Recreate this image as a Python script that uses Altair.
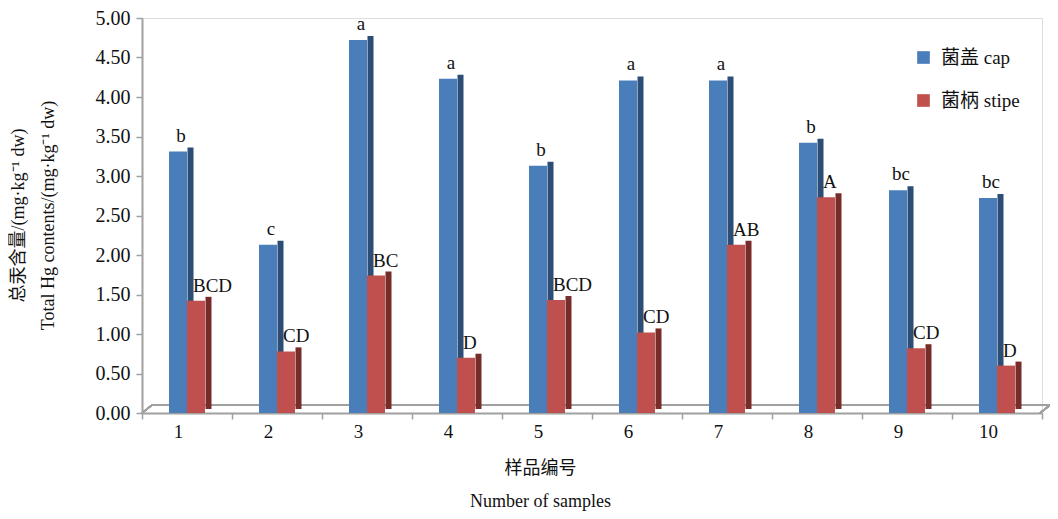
import altair as alt
import pandas as pd

samples = [str(i) for i in range(1, 11)]
series_names = ["菌盖 cap", "菌柄 stipe"]
cap_values = [3.31, 2.13, 4.72, 4.23, 3.13, 4.21, 4.21, 3.42, 2.82, 2.72]
stipe_values = [1.42, 0.78, 1.74, 0.70, 1.43, 1.02, 2.13, 2.73, 0.82, 0.60]
cap_letters = ["b", "c", "a", "a", "b", "a", "a", "b", "bc", "bc"]
stipe_letters = ["BCD", "CD", "BC", "D", "BCD", "CD", "AB", "A", "CD", "D"]
y_ticks = [0.0, 0.5, 1.0, 1.5, 2.0, 2.5, 3.0, 3.5, 4.0, 4.5, 5.0]

CAP = "#4A7EBB"
CAP_DARK = "#2C4D75"
STIPE = "#C0504D"
STIPE_DARK = "#772C2A"
FONT = "Liberation Serif, Noto Sans CJK SC"
GREY = "#A0A0A0"

rows = []
for s, cv, sv, cl, sl in zip(samples, cap_values, stipe_values, cap_letters, stipe_letters):
    rows.append({"sample": s, "series": series_names[0], "value": cv, "letter": cl})
    rows.append({"sample": s, "series": series_names[1], "value": sv, "letter": sl})
df = pd.DataFrame(rows)

x_axis = alt.Axis(
    labelAngle=0,
    tickBand="extent",
    tickOffset=-9,
    labelOffset=-9,
    tickSize=6,
    labelPadding=3,
    labelFont=FONT,
    labelFontSize=19,
    labelColor="#111",
    title=["样品编号", "Number of samples"],
    titleFont=FONT,
    titleFontSize=18,
    titleFontWeight="normal",
    titleColor="#111",
    titleX=398,
    titleY=46,
    titleAlign="center",
    titleBaseline="top",
    titleLineHeight=33,
    domainColor=GREY,
    domainWidth=2,
    tickColor=GREY,
    tickWidth=1.5,
)
y_axis = alt.Axis(
    values=y_ticks,
    format=".2f",
    grid=False,
    tickSize=6,
    labelPadding=6,
    labelFont=FONT,
    labelFontSize=20,
    labelColor="#111",
    title=["总汞含量/(mg·kg⁻¹ dw)", "Total Hg contents/(mg·kg⁻¹ dw)"],
    titleFont=FONT,
    titleFontSize=18,
    titleFontWeight="normal",
    titleColor="#111",
    titleX=-133,
    titleY=197,
    titleAlign="center",
    titleBaseline="top",
    titleLineHeight=30,
    domainColor=GREY,
    domainWidth=2,
    tickColor=GREY,
    tickWidth=1.5,
)
y_scale = alt.Scale(domain=[0, 5], nice=False)

x_enc = alt.X("sample:N", sort=samples, scale=alt.Scale(paddingInner=0, paddingOuter=0), axis=x_axis)
y_enc = alt.Y("value:Q", scale=y_scale, axis=y_axis)
y_zero = alt.YDatum(0, type="quantitative", scale=y_scale, axis=y_axis)

base = alt.Chart(df)
cap_data = base.transform_filter(alt.datum.series == series_names[0])
stipe_data = base.transform_filter(alt.datum.series == series_names[1])

color_enc = alt.Color(
    "series:N",
    scale=alt.Scale(domain=series_names, range=[CAP, STIPE]),
    legend=alt.Legend(
        title=None,
        orient="none",
        legendX=772,
        legendY=30,
        symbolType="square",
        symbolSize=160,
        symbolStrokeWidth=0,
        labelFont=FONT,
        labelFontSize=19,
        labelColor="#111",
        rowPadding=23,
        labelOffset=8,
    ),
)

# 3D floor decoration (back edge and end connectors)
floor_back = base.mark_rule(color=GREY, strokeWidth=1.5, xOffset=10, yOffset=-8).encode(
    y=y_zero, x=alt.value(0), x2=alt.value(908)
)
floor_left = base.mark_rule(color=GREY, strokeWidth=1.5, y2Offset=-8).encode(
    y=y_zero, y2=alt.datum(0), x=alt.value(0), x2=alt.value(10)
)
floor_right = base.mark_rule(color=GREY, strokeWidth=1.5, y2Offset=-8).encode(
    y=y_zero, y2=alt.datum(0), x=alt.value(898), x2=alt.value(908)
)

cap_side = cap_data.mark_bar(width=6, xOffset=3.5, yOffset=-4, color=CAP_DARK).encode(x=x_enc, y=y_enc)
stipe_side = stipe_data.mark_bar(width=6, xOffset=21.5, yOffset=-4, color=STIPE_DARK).encode(x=x_enc, y=y_enc)
cap_front = cap_data.mark_bar(width=18, xOffset=-9).encode(x=x_enc, y=y_enc, color=color_enc)
stipe_front = stipe_data.mark_bar(width=18, xOffset=9).encode(x=x_enc, y=y_enc, color=color_enc)

cap_text = cap_data.mark_text(
    xOffset=-6, dy=-6, baseline="bottom", align="center", font=FONT, fontSize=19, color="#111"
).encode(x=x_enc, y=y_enc, text="letter:N")
stipe_text = stipe_data.mark_text(
    xOffset=6, dy=-5, baseline="bottom", align="left", font=FONT, fontSize=19, color="#111"
).encode(x=x_enc, y=y_enc, text="letter:N")

chart = (
    alt.layer(floor_back, floor_left, floor_right, cap_side, stipe_side, cap_front, stipe_front, cap_text, stipe_text)
    .properties(
        width=900,
        height=395,
        autosize=alt.AutoSizeParams(type="none"),
        padding={"left": 134, "top": 10, "right": 8, "bottom": 98},
    )
    .configure_view(stroke=None)
    .configure(background="white")
)

chart.save("out.html", embed_options={"renderer": "svg", "actions": False})
